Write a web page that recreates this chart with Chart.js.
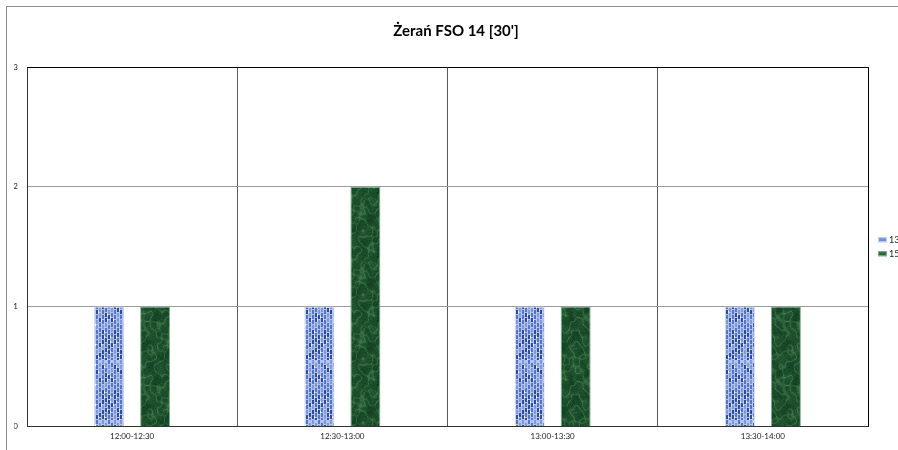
<!DOCTYPE html>
<html>
<head>
<meta charset="utf-8">
<script src="https://cdn.jsdelivr.net/npm/chart.js@4"></script>
<style>
  html, body { margin: 0; padding: 0; background: #fff; overflow: hidden; }
  #wrap { width: 898px; height: 450px; }
</style>
</head>
<body>
<div id="wrap"><canvas id="chart" width="898" height="450"></canvas></div>
<script>
// Chart data
const categories = ['12:00-12:30', '12:30-13:00', '13:00-13:30', '13:30-14:00'];
const seriesNames = ['13', '15'];
const series13 = [1, 1, 1, 1];
const series15 = [1, 2, 1, 1];
const yTicks = [0, 1, 2, 3];
const legendSwatches = ['#6f8fd6', '#2b6440'];

// Simple deterministic hash for bar textures
function hash(x, y) {
    const s = Math.sin(x * 12.9898 + y * 78.233) * 43758.5453;
    return s - Math.floor(s);
}

// Blue "woven" texture
function makeBluePattern(ctx) {
    const c = document.createElement('canvas');
    c.width = 30; c.height = 60;
    const g = c.getContext('2d');
    g.fillStyle = '#b2c4ef';
    g.fillRect(0, 0, c.width, c.height);
    for (let x = 0; x < c.width; x += 3) {
        const off = (x / 3) % 2 ? 3 : 0;
        for (let y = off; y < c.height; y += 5) {
            const h = hash(x, y);
            g.fillStyle = h > 0.7 ? '#2f4d96' : (h > 0.3 ? '#5574c2' : '#8099d6');
            g.fillRect(x, y, 2, 4);
            if (h > 0.75) {
                g.fillStyle = '#eef3fd';
                g.fillRect(x + 2, y + 1, 1, 2);
            }
        }
    }
    return ctx.createPattern(c, 'repeat');
}

// Green "marble" texture
function makeGreenPattern(ctx) {
    const c = document.createElement('canvas');
    c.width = 64; c.height = 64;
    const g = c.getContext('2d');
    const img = g.createImageData(c.width, c.height);
    for (let y = 0; y < c.height; y++) {
        for (let x = 0; x < c.width; x++) {
            const a = x * Math.PI * 2 / 64, b = y * Math.PI * 2 / 64;
            const f = Math.sin(a * 2 + Math.sin(b * 3) * 1.5) + Math.sin(b * 2 + Math.cos(a * 3) * 1.7)
                + 0.5 * Math.sin(a * 5 + b * 4) + 0.4 * Math.sin(a * 7 - b * 5);
            const cloud = 0.5 + 0.25 * Math.sin(a * 3 + b) * Math.cos(b * 2 - a);
            const vein = Math.exp(-Math.abs(f) * 3);
            const n = (hash(x, y) - 0.5) * 0.18;
            const t = Math.max(0, Math.min(1, vein * 0.45 + cloud * 0.35 + n));
            const i = (y * c.width + x) * 4;
            img.data[i] = 14 + t * 70;
            img.data[i + 1] = 58 + t * 95;
            img.data[i + 2] = 30 + t * 65;
            img.data[i + 3] = 255;
        }
    }
    g.putImageData(img, 0, 0);
    return ctx.createPattern(c, 'repeat');
}

// Outer frame, plot border and legend
const framePlugin = {
    id: 'frame',
    beforeDraw(chart) {
        const ctx = chart.ctx;
        ctx.save();
        ctx.fillStyle = '#fff';
        ctx.fillRect(0, 0, chart.width, chart.height);
        ctx.strokeStyle = '#8c8c8c';
        ctx.lineWidth = 1;
        ctx.strokeRect(6.5, 6.5, chart.width + 20, chart.height + 20);
        ctx.restore();
    },
    afterDatasetsDraw(chart) {
        const a = chart.chartArea;
        const ctx = chart.ctx;
        ctx.save();
        ctx.strokeStyle = '#000';
        ctx.lineWidth = 1;
        ctx.beginPath();
        ctx.moveTo(a.left, a.top + 0.5);
        ctx.lineTo(a.right + 0.5, a.top + 0.5);
        ctx.lineTo(a.right + 0.5, a.bottom);
        ctx.stroke();

        // legend to the right of the plot
        const items = chart.data.datasets;
        const lx = a.right + 10;
        const midY = (a.top + a.bottom) / 2;
        ctx.font = '9px Lato';
        ctx.textBaseline = 'middle';
        items.forEach((ds, i) => {
            const y = midY - 7 + i * 14;
            ctx.fillStyle = legendSwatches[i];
            ctx.fillRect(lx, y - 2.5, 9, 5);
            ctx.strokeStyle = ds.borderColor;
            ctx.strokeRect(lx + 0.5, y - 2, 8, 4);
            ctx.fillStyle = '#222';
            ctx.fillText(ds.label, lx + 11, y + 0.5);
        });
        ctx.restore();
    }
};

const canvas = document.getElementById('chart');
const ctx = canvas.getContext('2d');

new Chart(ctx, {
    type: 'bar',
    data: {
        labels: categories,
        datasets: [{
            label: seriesNames[0],
            data: series13,
            backgroundColor: makeBluePattern(ctx),
            borderColor: '#c8d5f4',
            borderWidth: 1
        }, {
            label: seriesNames[1],
            data: series15,
            backgroundColor: makeGreenPattern(ctx),
            borderColor: '#7fb38d',
            borderWidth: 1
        }]
    },
    options: {
        responsive: false,
        animation: false,
        categoryPercentage: 0.438,
        barPercentage: 0.652,
        layout: { padding: { left: 14, right: 0, top: 0, bottom: 4 } },
        plugins: {
            title: {
                display: true,
                text: "Żerań FSO 14 [30']",
                color: '#000',
                font: { family: 'Lato', size: 15, weight: 'bold' },
                padding: { top: 22, bottom: 27 }
            },
            legend: { display: false },
            tooltip: { enabled: false }
        },
        scales: {
            x: {
                grid: { color: '#5a5a5a', drawTicks: false, offset: true },
                border: { color: '#333' },
                ticks: {
                    color: '#222',
                    padding: 5,
                    font: { family: 'Lato', size: 8 }
                }
            },
            y: {
                min: 0,
                max: 3,
                afterBuildTicks(scale) {
                    scale.ticks = yTicks.map(v => ({ value: v }));
                },
                afterFit(scale) { scale.width = 13; },
                grid: { color: '#9a9a9a', drawTicks: false },
                border: { color: '#333' },
                ticks: {
                    color: '#222',
                    padding: 9,
                    font: { family: 'Lato', size: 8 }
                }
            },
            // empty axis that only reserves room for the legend
            legendSpace: {
                type: 'linear',
                position: 'right',
                grid: { display: false, drawOnChartArea: false },
                border: { display: false },
                ticks: { display: false },
                afterFit(scale) { scale.width = 30; }
            }
        }
    },
    plugins: [framePlugin]
});
</script>
</body>
</html>
